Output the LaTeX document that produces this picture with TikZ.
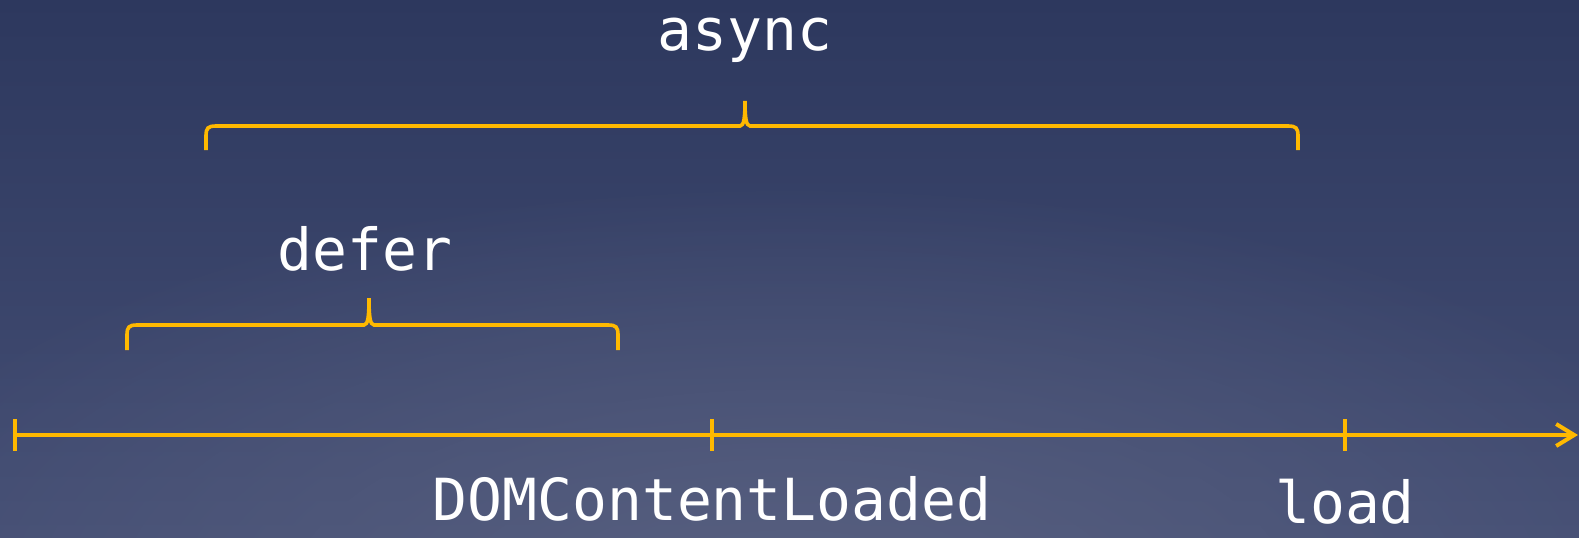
\documentclass[tikz,border=0pt]{standalone}
\usepackage{fontspec}
\setmonofont{DejaVu Sans Mono}
\usetikzlibrary{arrows.meta,fadings}

\definecolor{bgtop}{RGB}{45,56,94}
\definecolor{bgbot}{RGB}{68,78,116}
\definecolor{bgglow}{RGB}{88,96,128}
\definecolor{timeline}{RGB}{255,185,0}
\tikzfading[name=glowfade, inner color=transparent!0, outer color=transparent!100]

\begin{document}
\begin{tikzpicture}[x=0.5pt, y=-0.5pt,
  axis/.style={draw=timeline, line width=2pt},
  brace/.style={draw=timeline, line width=1.8pt},
  lbl/.style={text=white, font=\ttfamily\fontsize{29}{32}\selectfont, inner sep=0pt, anchor=base}]

% background
\shade[top color=bgtop, bottom color=bgbot] (0,0) rectangle (1579,537);
\begin{scope}
  \clip (0,0) rectangle (1579,537);
  \fill[bgglow, path fading=glowfade] (790,600) ellipse (1000 and 420);
\end{scope}
\useasboundingbox (0,0) rectangle (1579,537);

% timeline
\coordinate (t0) at (15,435);
\coordinate (tDom) at (712,435);
\coordinate (tLoad) at (1345,435);
\coordinate (tEnd) at (1578,435);
\draw[axis, -{Straight Barb[length=9pt, width=11pt]}] (t0) -- (tEnd);
\foreach \t in {t0, tDom, tLoad}
  \draw[axis] (\t) ++(0,-16) -- ++(0,32);

\node[lbl] (dom) at (712,520) {DOMContentLoaded};
\node[lbl] (load) at (1345,523) {load};

% braces
\draw[brace] (127,350) -- (127,335) .. controls (127,327) and (129,325) .. (137,325)
  -- (364,325) .. controls (368,325) and (369,316) .. (369,298)
  .. controls (369,316) and (370,325) .. (374,325)
  -- (608,325) .. controls (616,325) and (618,327) .. (618,335) -- (618,350);
\node[lbl] (defer) at (365,270) {defer};

\draw[brace] (206,150) -- (206,136) .. controls (206,128) and (208,126) .. (216,126)
  -- (740,126) .. controls (744,126) and (745,117) .. (745,101)
  .. controls (745,117) and (746,126) .. (750,126)
  -- (1288,126) .. controls (1296,126) and (1298,128) .. (1298,136) -- (1298,150);
\node[lbl] (async) at (745,50) {async};
\end{tikzpicture}
\end{document}
